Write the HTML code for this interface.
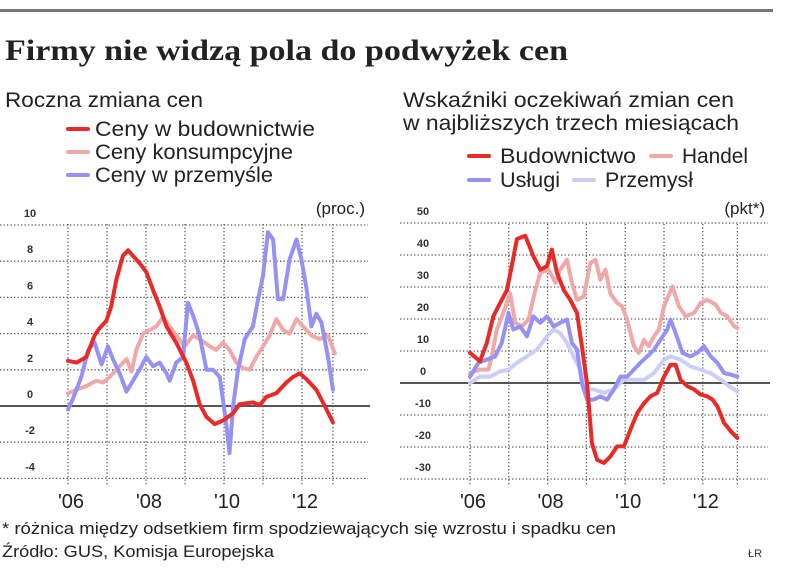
<!DOCTYPE html>
<html><head><meta charset="utf-8">
<style>
html,body{margin:0;padding:0;background:#fff;}
body{width:805px;height:578px;overflow:hidden;position:relative;font-family:"Liberation Sans",sans-serif;color:#222;}
</style></head><body>
<svg id="svg" width="805" height="578" style="position:absolute;left:0;top:0">
<rect x="0" y="9" width="773" height="3" fill="#777"/>
<text x="5" y="60" font-family="Liberation Serif, serif" font-weight="bold" font-size="30" textLength="563" lengthAdjust="spacingAndGlyphs" fill="#222">Firmy nie widzą pola do podwyżek cen</text>
<text x="5" y="107" font-size="21" textLength="198" lengthAdjust="spacingAndGlyphs" fill="#222">Roczna zmiana cen</text>
<text x="403" y="107" font-size="21" textLength="331" lengthAdjust="spacingAndGlyphs" fill="#222">Wskaźniki oczekiwań zmian cen</text>
<text x="403" y="130" font-size="21" textLength="336" lengthAdjust="spacingAndGlyphs" fill="#222">w najbliższych trzech miesiącach</text>
<text x="2" y="534" font-size="17" textLength="614" lengthAdjust="spacingAndGlyphs" fill="#222">* różnica między odsetkiem firm spodziewających się wzrostu i spadku cen</text>
<text x="2" y="557" font-size="17" textLength="272" lengthAdjust="spacingAndGlyphs" fill="#222">Źródło: GUS,  Komisja Europejska</text>
<text x="748" y="557" font-size="11" fill="#333">ŁR</text>
</svg>
<script>
// Left chart data (months since Jan 2006, values in %)
const lRedM=[0,2.6,5.6,8.2,9.7,11.8,13.3,14.9,16.9,18.5,20,22,24.1,26.2,28.2,30.3,33.3,36.4,38.5,40.5,42.6,45.1,47.7,50.8,52.8,56.9,59,61,64.1,67.2,69.2,71.3,73.3,76.4,79,81.5];
const lRedV=[2.5,2.4,2.7,3.9,4.3,4.7,5.5,7,8.3,8.6,8.3,7.9,7.4,6.4,5.5,4.4,3.5,2.4,1.4,0.1,-0.6,-1,-0.8,-0.4,0.1,0.2,0.05,0.5,0.7,1.3,1.6,1.8,1.5,0.9,0,-0.9];
const lPinkM=[0,2.6,5.6,8.7,10.8,12.8,15.9,18,19.5,21,23.1,25.1,27.2,29.2,31.3,33.3,35.9,38.5,40.5,43.6,45.6,47.7,49.7,51.8,53.8,55.9,57.9,60,62.1,64.1,66.2,68.2,70.3,72.3,74.9,77.4,80,82.1];
const lPinkV=[0.7,0.9,1.1,1.4,1.3,1.6,2.2,2.6,1.9,3.1,4,4.2,4.4,4.9,4.4,3.9,3.3,3.9,3.7,3.3,3.1,3.5,3.1,2.4,2.1,2,2.7,3.3,3.9,4.8,4.2,4,4.8,4.4,3.9,3.7,3.9,2.9];
const lBlueM=[0,1.5,4.1,6.2,8.2,10.3,12.3,13.8,15.9,18,20,22,24.1,26.2,28.2,30.3,31.3,33.3,35.4,36.9,38.5,40.5,42.6,44.6,46.7,48.7,49.7,50.8,52.3,54.4,56.9,58.5,60,61.5,63.1,64.6,66.2,68.2,70.3,71.8,73.3,74.9,76.4,78,80,81.5];
const lBlueV=[-0.2,0.4,1.6,3.1,3.5,2.3,3.3,2.6,1.8,0.8,1.4,2,2.7,2.2,2.4,1.8,1.4,2.4,2.7,5.7,5,3.9,2,2,1.6,-1,-2.6,0,2,3.7,4.4,5.9,7.2,9.6,9.2,5.9,5.9,8.1,9.2,8.1,6.6,4.4,5.1,4.6,2.7,0.9];
const lTicks=[10,8,6,4,2,0,-2,-4];
// Right chart data (months since Jan 2006, points)
const rRedM=[0,3.1,5.2,7.2,9.3,11.4,12.9,14.5,17.1,19.6,21.7,23.8,25.3,26.9,29,31,33.1,34.6,36.2,37.7,39.3,41.4,43.4,45.5,47.6,49.6,51.7,53.8,55.8,57.9,60,62,63.6,65.1,67.2,69.3,71.3,73.4,75,76.5,78.6,80.7,82.7];
const rRedV=[9.4,6.8,12.5,20.8,25,29,36.5,45,46,39.6,35.4,36.5,41.7,34.4,29,26,21.9,11.5,0,-18.8,-24,-25,-23,-19.8,-19.8,-14.6,-9.4,-6.3,-4.2,-3.1,2,5.7,5.7,1,-1,-2,-3.6,-4.2,-5.2,-7.3,-12.5,-15.1,-17.2];
const rPinkM=[0,3.1,5.7,6.7,8.3,10.3,12.4,14,16,18.1,20.2,21.7,24.3,26.4,27.9,30,31.5,33.1,35.2,37.2,38.8,40.3,41.9,43.4,45.5,47,48.6,50.7,52.2,53.8,55.3,56.9,58.4,60,62.6,64.6,66.7,69.3,71.3,73.4,76,77.6,79.6,81.7,82.7];
const rPinkV=[3.1,4.2,4.2,8.3,16.7,21.9,28,18.8,17.7,19.8,29,34.4,35.4,31.3,35.4,38.5,31.3,26,27,37.5,38.5,32.3,35.4,28,25,24,19.8,11.5,9.4,13.5,11.5,14.6,16.7,24,30.2,24,20.8,21.9,25,26,24.5,21.9,20.8,17.7,17.2];
const rBlueM=[0,2.6,5.2,7.8,9.8,11.9,13.4,15.5,17.6,19.6,21.7,23.8,25.9,27.9,30,31.5,33.1,34.6,36.2,38.3,40.3,42.4,44.5,46.5,48.6,50.7,52.7,54.8,56.9,58.9,61,62,63.6,65.7,68.2,70.3,72.4,74.4,76.5,78.6,80.7,82.7];
const rBlueV=[2,6.3,7.3,8.3,12.5,21.9,16.7,17.7,14.6,20.8,18.8,20.8,17.7,18.8,19.8,12.5,10.4,0,-5.2,-5.2,-4.2,-5.2,-2,2,2,4.2,6.3,8.3,10.4,13.5,16.7,19.8,15.6,9.4,8.3,9.4,11.5,8.3,6.3,3.1,2.6,2];
const rLightM=[0,3.1,6.2,9.3,11.9,14.5,17.6,20.7,23.8,25.9,27.9,30,32,34.1,36.2,38.3,41.4,44.5,47.6,50.7,53.8,56.9,60,62,65.1,68.2,71.3,74.4,77.6,80.1,82.7];
const rLightV=[0,2,2,3.6,4.2,6.3,8.3,10.4,14.6,16.7,15.6,12.5,8.3,4.2,-2,-2,-3.1,-2,1,1,1,3.1,7.3,8.3,7.3,5.2,4.2,3.1,1,-1,-2.6];
const rTicks=[50,40,30,20,10,0,-10,-20,-30];
const years=["'06","'08","'10","'12"];

const svg=document.getElementById('svg');
const NS='http://www.w3.org/2000/svg';
function mk(tag,attrs,parent){const e=document.createElementNS(NS,tag);for(const k in attrs)e.setAttribute(k,attrs[k]);(parent||svg).appendChild(e);return e;}

function chart(cfg){
  const g=mk('g',{});
  
  
  const X=m=>cfg.x0+m*cfg.yw/12;
  const Y=v=>cfg.zeroY-v*cfg.unit;
  const vm=[0,12,24,36,48,60,72,cfg.lastM];
  vm.forEach(m=>{const l=mk('line',{x1:X(m),x2:X(m),y1:224,y2:486,stroke:'#555','stroke-width':1.3,'stroke-dasharray':'1.3 2.2'},g);
    
    });
  cfg.ticks.forEach(v=>{
    if(v!==0){const l=mk('line',{x1:cfg.gx1,x2:cfg.gx2,y1:Y(v),y2:Y(v),stroke:'#555','stroke-width':1.3,'stroke-dasharray':'1.3 2.2'},g);
      
      }
    const t=mk('text',{x:cfg.lx,y:Y(v)-8,'text-anchor':'middle','font-size':11,'font-weight':'bold',fill:'#333','font-family':'Liberation Sans, sans-serif'},g);
    t.textContent=v;
    
    
  });
  years.forEach((s,i)=>{const t=mk('text',{x:X(i*24)+3,y:508,'text-anchor':'middle','font-size':20,fill:'#222','font-family':'Liberation Sans, sans-serif'},g);
    t.textContent=s;
    
    });
  const u=mk('text',{x:cfg.gx2-3,y:214,'text-anchor':'end','font-size':17,fill:'#222','font-family':'Liberation Sans, sans-serif'},g);
  u.textContent=cfg.unitLabel;
  
  
  const z=mk('line',{x1:cfg.gx1,x2:cfg.gx2+2,y1:cfg.zeroY,y2:cfg.zeroY,stroke:'#555','stroke-width':2},g);
  
  
  cfg.series.forEach(s=>{
    const d=s.m.map((m,i)=>(i?'L':'M')+X(m).toFixed(1)+','+Y(s.v[i]).toFixed(1)).join(' ');
    const p=mk('path',{d:d,fill:'none',stroke:s.c,'stroke-width':4,'stroke-linejoin':'round','stroke-linecap':'round'},g);
    
    
  });
}
chart({name:'left-chart',x0:68,yw:39,zeroY:406,unit:18.1,gx1:0,gx2:368,lx:30,lastM:81.5,ticks:lTicks,unitLabel:'(proc.)',
  series:[{name:'ceny-konsumpcyjne-line',m:lPinkM,v:lPinkV,c:'#f0a9a8'},{name:'ceny-w-przemysle-line',m:lBlueM,v:lBlueV,c:'#9591f5'},{name:'ceny-w-budownictwie-line',m:lRedM,v:lRedV,c:'#e82a28'}]});
chart({name:'right-chart',x0:470,yw:38.8,zeroY:383,unit:3.2,gx1:400,gx2:768,lx:423,lastM:82.7,ticks:rTicks,unitLabel:'(pkt*)',
  series:[{name:'przemysl-line',m:rLightM,v:rLightV,c:'#cdcdf9'},{name:'handel-line',m:rPinkM,v:rPinkV,c:'#f0a9a8'},{name:'uslugi-line',m:rBlueM,v:rBlueV,c:'#9591f5'},{name:'budownictwo-line',m:rRedM,v:rRedV,c:'#e82a28'}]});

const legends=[
  {x:68,tx:95,y:136,w:220,c:'#e82a28',t:'Ceny w budownictwie',n:'legend-ceny-budownictwo'},
  {x:68,tx:95,y:159,w:198,c:'#f0a9a8',t:'Ceny konsumpcyjne',n:'legend-ceny-konsumpcyjne'},
  {x:68,tx:95,y:182,w:178,c:'#9591f5',t:'Ceny w przemyśle',n:'legend-ceny-przemysl'},
  {x:469,tx:500,y:163,w:136,c:'#e82a28',t:'Budownictwo',n:'legend-budownictwo'},
  {x:651,tx:682,y:163,w:66,c:'#f0a9a8',t:'Handel',n:'legend-handel'},
  {x:469,tx:500,y:187,w:60,c:'#9591f5',t:'Usługi',n:'legend-uslugi'},
  {x:574,tx:605,y:187,w:88,c:'#cdcdf9',t:'Przemysł',n:'legend-przemysl'}];
legends.forEach(L=>{
  const g=mk('g',{});
  
  
  mk('line',{x1:L.x,x2:L.x+20,y1:L.y-7,y2:L.y-7,stroke:L.c,'stroke-width':4,'stroke-linecap':'round'},g);
  const t=mk('text',{x:L.tx,y:L.y,'font-size':21,fill:'#222','font-family':'Liberation Sans, sans-serif',textLength:L.w,lengthAdjust:'spacingAndGlyphs'},g);
  t.textContent=L.t;
});
</script>
</body></html>
